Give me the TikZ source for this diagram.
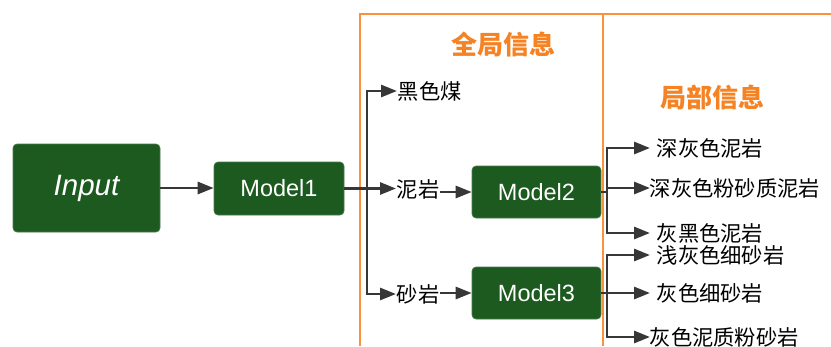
\documentclass[tikz,border=0pt]{standalone}
\usepackage{fontspec}
\setmainfont{Liberation Sans}
\newfontfamily\cjk{Noto Sans CJK SC}
\usetikzlibrary{arrows.meta}
\definecolor{boxgreen}{RGB}{28,90,32}
\definecolor{frameorange}{RGB}{250,145,60}
\definecolor{titleorange}{RGB}{245,130,35}
\definecolor{arrowgray}{RGB}{55,55,55}
\tikzset{
  modelbox/.style={fill=boxgreen, draw=boxgreen!80!white, line width=0.6pt, rounded corners=4pt, text=white, font=\fontsize{23.5}{25}\selectfont},
  lab/.style={font=\cjk\fontsize{21.3}{23}\selectfont, inner sep=0.5pt, anchor=west, text=black},
  conn/.style={draw=arrowgray, line width=2.8pt, -{Triangle[length=16pt,width=12pt]}},
  plain/.style={draw=arrowgray, line width=2.8pt},
  frame/.style={draw=frameorange, line width=2.4pt},
  ttl/.style={font=\cjk\bfseries\fontsize{26}{28}\selectfont, text=titleorange}
}
\begin{document}
\begin{tikzpicture}[x=1pt,y=-1pt]
\useasboundingbox (0,0) rectangle (831,346);
% frames
\draw[frame] (360,346) -- (360,14) -- (831,14);
\draw[frame] (603,14) -- (603,346);
\node[ttl] (t1) at (503,45) {全局信息};
\node[ttl] (t2) at (712,98) {局部信息};
% boxes
\node[modelbox, minimum width=147pt, minimum height=88pt, font=\itshape\fontsize{29.5}{31}\selectfont] (inp) at (86.5,188) {Input};
\node[modelbox, minimum width=130pt, minimum height=53pt] (m1) at (279,188.5) {Model1};
\node[modelbox, minimum width=129pt, minimum height=52pt] (m2) at (536.5,192) {Model2};
\node[modelbox, minimum width=129pt, minimum height=52pt] (m3) at (536.5,293) {Model3};
% global labels
\node[lab] (coal) at (397,91) {黑色煤};
\node[lab] (ny) at (396,189) {泥岩};
\node[lab] (sy) at (396,294) {砂岩};
% local labels
\node[lab] (a1) at (656,148) {深灰色泥岩};
\node[lab] (a2) at (649,188) {深灰色粉砂质泥岩};
\node[lab] (a3) at (656,233) {灰黑色泥岩};
\node[lab] (b1) at (656,255) {浅灰色细砂岩};
\node[lab] (b2) at (656,293) {灰色细砂岩};
\node[lab] (b3) at (649,337) {灰色泥质粉砂岩};
% connectors
\draw[conn] (inp.east) -- (m1.west |- inp.east);
\coordinate (j1) at (367,188.5);
\draw[plain] (m1.east) -- (j1);
\draw[conn] (j1) |- (coal.west);
\draw[conn] (j1) -- (ny.west |- j1);
\draw[conn] (j1) |- (sy.west);
\draw[conn] (ny.east |- m2.west) -- (m2.west);
\draw[conn] (sy.east |- m3.west) -- (m3.west);
\coordinate (e) at (650,0);
\coordinate (j2) at (607,192);
\draw[plain] (m2.east) -- (j2);
\draw[conn] (j2) |- (a1.west -| e);
\draw[conn] (j2 |- a2.west) -- (a2.west -| e);
\draw[conn] (j2) |- (a3.west -| e);
\coordinate (j3) at (607,293);
\draw[plain] (m3.east) -- (j3);
\draw[conn] (j3) |- (b1.west -| e);
\draw[conn] (j3) -- (b2.west -| e);
\draw[conn] (j3) |- (b3.west -| e);
\end{tikzpicture}
\end{document}
